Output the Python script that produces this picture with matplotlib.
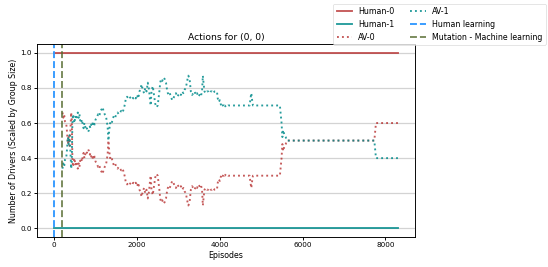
import matplotlib
matplotlib.use("Agg")
import matplotlib.pyplot as plt

# ---------------- datos ----------------
episodios_humanos = [0, 8300]
human0 = [1.0, 1.0]
human1 = [0.0, 0.0]

episodios_av = [
    200, 220, 240, 260, 290, 310, 330, 350, 370, 390, 410, 425, 440, 455, 470,
    490, 510, 530, 550, 570, 590, 610, 630, 650, 670, 690, 710, 730, 750, 770,
    790, 820, 840, 860, 880, 900, 920, 940, 960, 980, 1000, 1030, 1060, 1090,
    1120, 1150, 1170, 1190, 1220, 1250, 1270, 1290, 1310, 1330, 1350, 1380,
    1410, 1440, 1470, 1500, 1530, 1560, 1590, 1620, 1650, 1680, 1710, 1730,
    1760, 1790, 1820, 1850, 1880, 1910, 1940, 1970, 2000, 2030, 2060, 2090,
    2110, 2140, 2170, 2200, 2230, 2260, 2290, 2310, 2330, 2350, 2380, 2410,
    2440, 2470, 2500, 2520, 2540, 2560, 2580, 2610, 2640, 2670, 2700, 2730,
    2760, 2790, 2820, 2850, 2880, 2910, 2940, 2970, 3000, 3030, 3060, 3090,
    3120, 3150, 3180, 3210, 3240, 3270, 3300, 3330, 3360, 3390, 3420, 3450,
    3480, 3510, 3540, 3570, 3590, 3610, 3630, 3660, 3690, 3720, 3750, 3780,
    3810, 3840, 3870, 3900, 3930, 3950, 3970, 4000, 4030, 4060, 4090, 4120,
    4150, 4200, 4720, 4740, 4760, 4780, 4800, 5450, 5470, 5490, 5510, 5530,
    5560, 5590, 5620, 7730, 7750, 7770, 8300,
]
av0 = [
    0.66, 0.63, 0.65, 0.61, 0.60, 0.55, 0.48, 0.52, 0.47, 0.55, 0.66, 0.62,
    0.40, 0.35, 0.37, 0.40, 0.36, 0.38, 0.36, 0.34, 0.37, 0.35, 0.39, 0.40,
    0.38, 0.41, 0.43, 0.40, 0.42, 0.44, 0.43, 0.45, 0.44, 0.42, 0.43, 0.40,
    0.41, 0.39, 0.42, 0.40, 0.38, 0.37, 0.35, 0.36, 0.33, 0.32, 0.31, 0.33,
    0.35, 0.36, 0.39, 0.42, 0.50, 0.44, 0.40, 0.41, 0.38, 0.36, 0.37, 0.35,
    0.34, 0.35, 0.34, 0.33, 0.34, 0.32, 0.29, 0.26, 0.25, 0.26, 0.25, 0.26,
    0.25, 0.26, 0.25, 0.26, 0.24, 0.26, 0.22, 0.20, 0.18, 0.21, 0.23, 0.20,
    0.22, 0.17, 0.21, 0.26, 0.30, 0.22, 0.19, 0.24, 0.29, 0.31, 0.30, 0.26,
    0.22, 0.17, 0.15, 0.16, 0.14, 0.15, 0.17, 0.22, 0.24, 0.23, 0.25, 0.27,
    0.26, 0.24, 0.23, 0.25, 0.24, 0.23, 0.24, 0.22, 0.23, 0.21, 0.20, 0.16,
    0.13, 0.15, 0.22, 0.24, 0.23, 0.22, 0.24, 0.23, 0.25, 0.24, 0.25, 0.22,
    0.13, 0.18, 0.22, 0.23, 0.22, 0.22, 0.23, 0.22, 0.22, 0.23, 0.22, 0.22,
    0.22, 0.26, 0.28, 0.27, 0.30, 0.29, 0.31, 0.30, 0.31, 0.30, 0.30, 0.26,
    0.23, 0.27, 0.30, 0.30, 0.35, 0.40, 0.48, 0.44, 0.47, 0.48, 0.50, 0.50,
    0.55, 0.60, 0.60,
]
# AV-1 es el complemento de AV-0 (misma poblacion de AVs)
av1 = [1 - v for v in av0]

aprendizaje_humano = 0
mutacion = 200

# ---------------- grafico ----------------
rojo = "#b22222"
verde_azul = "#008b8b"

fig = plt.figure(figsize=(548 / 45, 267 / 45), dpi=45)
ax = fig.add_axes([0.0675, 0.112, 0.69, 0.723])

ax.plot(episodios_humanos, human0, color=rojo, alpha=0.75, lw=3, label="Human-0")
ax.plot(episodios_humanos, human1, color=verde_azul, alpha=0.85, lw=3, label="Human-1")
ax.plot(episodios_av, av0, color=rojo, alpha=0.75, lw=3, ls=":", label="AV-0")
ax.plot(episodios_av, av1, color=verde_azul, alpha=0.85, lw=3, ls=":", label="AV-1")
ax.axvline(aprendizaje_humano, color="#3399ff", lw=3, ls="--", label="Human learning")
ax.axvline(mutacion, color="#556b2f", alpha=0.8, lw=3, ls="--", label="Mutation - Machine learning")

ax.grid(axis="y", color="lightgray", lw=2)
ax.set_title("Actions for (0, 0)", fontsize=14.5)
ax.set_xlabel("Episodes", fontsize=12.5)
ax.set_ylabel("Number of Drivers (Scaled by Group Size)", fontsize=12.5)
ax.set_xticks([0, 2000, 4000, 6000, 8000])
ax.set_yticks([0.0, 0.2, 0.4, 0.6, 0.8, 1.0])
ax.tick_params(labelsize=11.5, width=1.5, length=5)
for lado in ax.spines.values():
    lado.set_linewidth(1.5)

fig.legend(loc="upper right", bbox_to_anchor=(1.0, 0.995), ncol=2,
           fontsize=12.5, borderaxespad=0.3)

fig.savefig("out.png", dpi=45)
